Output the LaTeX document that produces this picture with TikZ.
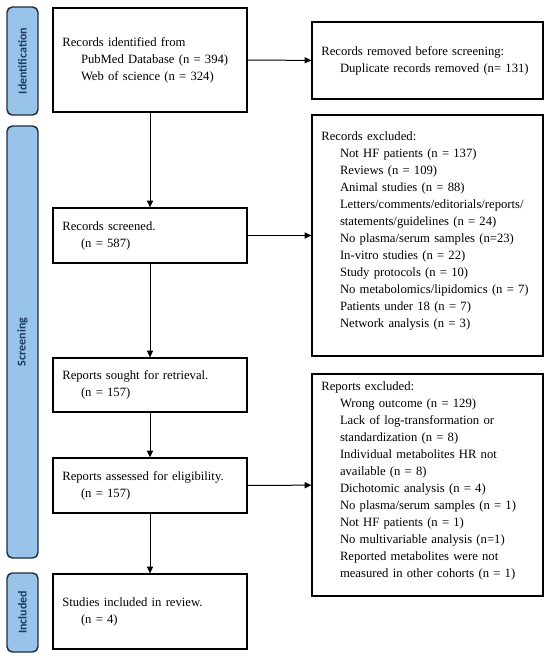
\documentclass[tikz,border=0pt]{standalone}
\usepackage{fontspec}
\setmainfont{Liberation Serif}
\newfontfamily\barfont{Carlito}
\usetikzlibrary{arrows.meta}

\definecolor{barblue}{RGB}{152,196,233}
\definecolor{bardark}{RGB}{31,45,61}
\definecolor{bartext}{RGB}{31,56,100}

\tikzset{
  box/.style={draw, line width=0.9pt, minimum width=145.5pt, inner xsep=7pt,
    text width=131.5pt, align=left, font=\fontsize{9.5}{12.75}\selectfont},
  widebox/.style={box, minimum width=173.25pt, text width=159.25pt},
  phase/.style={draw=bardark, fill=barblue, line width=1.1pt, rounded corners=4pt,
    minimum height=23.25pt, rotate=90, text=bartext,
    font=\barfont\bfseries\fontsize{9}{10}\selectfont},
  arr/.style={line width=0.75pt, -{Triangle[length=5pt,width=4.5pt]}}
}
\newcommand{\ind}[1]{\hspace*{14pt}\mbox{#1}}

\begin{document}
\begin{tikzpicture}[x=0.75pt, y=-0.75pt]
  % page frame, in pixels of the reference
  \useasboundingbox (0,0) rectangle (550,661);

  % phase bars on the left
  \node[phase, minimum width=81pt] (phid) at (22.5,61) {Identification};
  \node[phase, minimum width=324pt] (phscr) at (22.5,342) {Screening};
  \node[phase, minimum width=59.25pt] (phinc) at (22.5,612.5) {Included};

  % main column
  \node[box, minimum height=78pt] (ident) at (150,60)
    {Records identified from\\ \ind{PubMed Database (n = 394)}\\ \ind{Web of science (n = 324)}};
  \node[box, minimum height=41.25pt] (screened) at (150,235.5)
    {Records screened.\\ \ind{(n = 587)}};
  \node[box, minimum height=40.5pt] (sought) at (150,385)
    {Reports sought for retrieval.\\ \ind{(n = 157)}};
  \node[box, minimum height=41.25pt] (assessed) at (150,485.5)
    {Reports assessed for eligibility.\\ \ind{(n = 157)}};
  \node[box, minimum height=56.25pt] (included) at (150,611.5)
    {Studies included in review.\\ \ind{(n = 4)}};

  % right column (an empty last line keeps the list near the top)
  \node[widebox, minimum height=57.75pt] (removed) at (427.5,60.5)
    {Records removed before screening:\\ \ind{Duplicate records removed (n= 131)}};
  \node[widebox, minimum height=180.75pt] (excluded) at (427.5,235.5)
    {Records excluded:\\
     \ind{Not HF patients (n = 137)}\\
     \ind{Reviews (n = 109)}\\
     \ind{Animal studies (n = 88)}\\
     \ind{Letters/comments/editorials/reports/}\\
     \ind{statements/guidelines (n = 24)}\\
     \ind{No plasma/serum samples (n=23)}\\
     \ind{In-vitro studies (n = 22)}\\
     \ind{Study protocols (n = 10)}\\
     \ind{No metabolomics/lipidomics (n = 7)}\\
     \ind{Patients under 18 (n = 7)}\\
     \ind{Network analysis (n = 3)}\\[-4pt]\mbox{}};
  \node[widebox, minimum height=166.5pt] (repexcl) at (427.5,485)
    {Reports excluded:\\
     \ind{Wrong outcome (n = 129)}\\
     \ind{Lack of log-transformation or}\\
     \ind{standardization (n = 8)}\\
     \ind{Individual metabolites HR not}\\
     \ind{available (n = 8)}\\
     \ind{Dichotomic analysis (n = 4)}\\
     \ind{No plasma/serum samples (n = 1)}\\
     \ind{Not HF patients (n = 1)}\\
     \ind{No multivariable analysis (n=1)}\\
     \ind{Reported metabolites were not}\\
     \ind{measured in other cohorts (n = 1)}\\[-4pt]\mbox{}};

  % arrows
  \draw[arr] (ident) -- (screened);
  \draw[arr] (screened) -- (sought);
  \draw[arr] (sought) -- (assessed);
  \draw[arr] (assessed) -- (included);
  \draw[arr] (ident) -- (removed);
  \draw[arr] (screened) -- (excluded);
  \draw[arr] (assessed) -- (repexcl);

\end{tikzpicture}
\end{document}
